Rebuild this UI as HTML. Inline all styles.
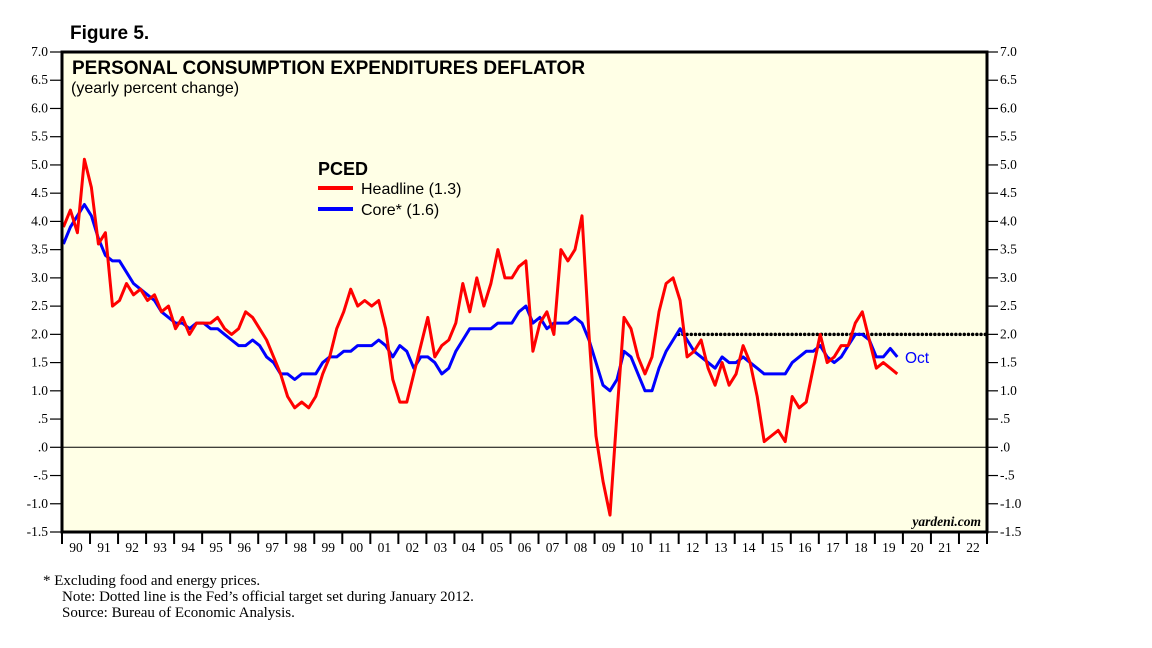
<!DOCTYPE html>
<html><head><meta charset="utf-8"><style>
body{margin:0;background:#fff;width:1152px;height:648px;overflow:hidden}
svg{display:block}
.ser{font-family:"Liberation Serif",serif;font-size:13.5px;fill:#000}
.foot{font-family:"Liberation Serif",serif;font-size:15px;fill:#000}
.sans{font-family:"Liberation Sans",sans-serif}
</style></head><body>
<svg id="chart" width="1152" height="648">
<text x="70" y="39" class="sans" font-size="19" font-weight="bold">Figure 5.</text>
<rect x="62" y="52" width="925" height="480" fill="#ffffe6"/>
<g id="grid"></g>
<g id="series"></g>
<rect x="62" y="52" width="925" height="480" fill="none" stroke="#000" stroke-width="3"/>
<text x="72" y="74" class="sans" font-size="19" font-weight="bold">PERSONAL CONSUMPTION EXPENDITURES DEFLATOR</text>
<text x="71" y="93" class="sans" font-size="16">(yearly percent change)</text>
<g>
<text x="318" y="175" class="sans" font-size="18" font-weight="bold">PCED</text>
<line x1="318" y1="188" x2="353" y2="188" stroke="#f00" stroke-width="4"/>
<text x="361" y="194" class="sans" font-size="16">Headline (1.3)</text>
<line x1="318" y1="209" x2="353" y2="209" stroke="#00f" stroke-width="4"/>
<text x="361" y="215" class="sans" font-size="16">Core* (1.6)</text>
</g>
<text x="905" y="363" class="sans" font-size="15.5" fill="#00f">Oct</text>
<text x="981" y="526" class="ser" font-size="16" font-style="italic" font-weight="bold" text-anchor="end">yardeni.com</text>
<g id="axes"></g>
<text x="43" y="585" class="foot">*   Excluding food and energy prices.</text>
<text x="62" y="601" class="foot">Note: Dotted line is the Fed’s official target set during January 2012.</text>
<text x="62" y="617" class="foot">Source: Bureau of Economic Analysis.</text>
</svg>
<script>
const startYear = 1990;
const yearLabels = ["90","91","92","93","94","95","96","97","98","99","00","01","02","03","04","05","06","07","08","09","10","11","12","13","14","15","16","17","18","19","20","21","22"];
const yTickLeft = ["-1.5","-1.0","-.5",".0",".5","1.0","1.5","2.0","2.5","3.0","3.5","4.0","4.5","5.0","5.5","6.0","6.5","7.0"];
const yTickRight = ["-1.5","-1.0","-.5",".0",".5","1.0","1.5","2.0","2.5","3.0","3.5","4.0","4.5","5.0","5.5","6.0","6.5","7.0"];
const targetValue = 2.0;
const targetStart = 2012.0;
// quarterly values 1990Q1..2019Q4
const headline = [3.9,4.2,3.8,5.1, 4.6,3.6,3.8,2.5, 2.6,2.9,2.7,2.8, 2.6,2.7,2.4,2.5, 2.1,2.3,2.0,2.2, 2.2,2.2,2.3,2.1, 2.0,2.1,2.4,2.3, 2.1,1.9,1.6,1.3, 0.9,0.7,0.8,0.7, 0.9,1.3,1.6,2.1, 2.4,2.8,2.5,2.6, 2.5,2.6,2.1,1.2, 0.8,0.8,1.3,1.8, 2.3,1.6,1.8,1.9, 2.2,2.9,2.4,3.0, 2.5,2.9,3.5,3.0, 3.0,3.2,3.3,1.7, 2.2,2.4,2.0,3.5, 3.3,3.5,4.1,2.0, 0.2,-0.6,-1.2,0.6, 2.3,2.1,1.6,1.3, 1.6,2.4,2.9,3.0, 2.6,1.6,1.7,1.9, 1.4,1.1,1.5,1.1, 1.3,1.8,1.5,0.9, 0.1,0.2,0.3,0.1, 0.9,0.7,0.8,1.4, 2.0,1.5,1.6,1.8, 1.8,2.2,2.4,1.9, 1.4,1.5,1.4,1.3];
const core = [3.6,3.9,4.1,4.3, 4.1,3.7,3.4,3.3, 3.3,3.1,2.9,2.8, 2.7,2.6,2.4,2.3, 2.2,2.2,2.1,2.2, 2.2,2.1,2.1,2.0, 1.9,1.8,1.8,1.9, 1.8,1.6,1.5,1.3, 1.3,1.2,1.3,1.3, 1.3,1.5,1.6,1.6, 1.7,1.7,1.8,1.8, 1.8,1.9,1.8,1.6, 1.8,1.7,1.4,1.6, 1.6,1.5,1.3,1.4, 1.7,1.9,2.1,2.1, 2.1,2.1,2.2,2.2, 2.2,2.4,2.5,2.2, 2.3,2.1,2.2,2.2, 2.2,2.3,2.2,1.9, 1.5,1.1,1.0,1.2, 1.7,1.6,1.3,1.0, 1.0,1.4,1.7,1.9, 2.1,1.9,1.7,1.6, 1.5,1.4,1.6,1.5, 1.5,1.6,1.5,1.4, 1.3,1.3,1.3,1.3, 1.5,1.6,1.7,1.7, 1.8,1.6,1.5,1.6, 1.8,2.0,2.0,1.9, 1.6,1.6,1.75,1.6];

const NS="http://www.w3.org/2000/svg";
const X0=62, X1=987, Y0=52, Y1=532, VMIN=-1.5, VMAX=7.0, NY=33;
const xScale = yr => X0 + (yr-startYear)*(X1-X0)/NY;
const yScale = v => Y1 - (v-VMIN)*(Y1-Y0)/(VMAX-VMIN);
function mk(tag, attrs, parent){const e=document.createElementNS(NS,tag);for(const k in attrs)e.setAttribute(k,attrs[k]);parent.appendChild(e);return e;}
const axes=document.getElementById('axes'), grid=document.getElementById('grid'), ser=document.getElementById('series');

let zl=mk('line',{x1:X0,x2:X1,y1:yScale(0),y2:yScale(0),stroke:'#000','stroke-width':1},grid);


let tl=mk('line',{x1:xScale(targetStart),x2:X1,y1:yScale(targetValue),y2:yScale(targetValue),stroke:'#000','stroke-width':3.5,'stroke-dasharray':'0 4.2','stroke-linecap':'round'},grid);



yTickLeft.forEach((lab,i)=>{
  const v=VMIN+i*0.5, y=yScale(v);
  const t=mk('line',{x1:X0-12,x2:X0,y1:y,y2:y,stroke:'#000','stroke-width':1.2},axes);
  
  
  const tx=mk('text',{x:X0-14,y:y+4,'text-anchor':'end',class:'ser'},axes);tx.textContent=lab;
  
  
});
yTickRight.forEach((lab,i)=>{
  const v=VMIN+i*0.5, y=yScale(v);
  const t=mk('line',{x1:X1,x2:X1+11,y1:y,y2:y,stroke:'#000','stroke-width':1.2},axes);
  
  
  const tx=mk('text',{x:X1+13,y:y+4,class:'ser'},axes);tx.textContent=lab;
  
  
});
for(let i=0;i<=NY;i++){
  const x=xScale(startYear+i);
  const t=mk('line',{x1:x,x2:x,y1:Y1,y2:Y1+12,stroke:'#000','stroke-width':2},axes);
  
  
}
yearLabels.forEach((lab,i)=>{
  const x=xScale(startYear+i+0.5);
  const tx=mk('text',{x:x,y:Y1+20,'text-anchor':'middle',class:'ser'},axes);tx.textContent=lab;
  
  
});
function pts(arr){return arr.map((v,i)=>xScale(startYear+i*0.25+0.05).toFixed(1)+','+yScale(v).toFixed(1)).join(' ');}
const pc=mk('polyline',{points:pts(core),fill:'none',stroke:'#00f','stroke-width':3,'stroke-linejoin':'round'},ser);


const ph=mk('polyline',{points:pts(headline),fill:'none',stroke:'#f00','stroke-width':3,'stroke-linejoin':'round'},ser);


</script>
</body></html>
